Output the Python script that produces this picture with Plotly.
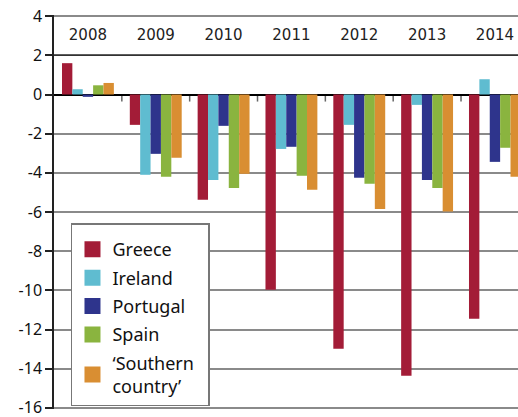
import plotly.graph_objects as go

years = ["2008", "2009", "2010", "2011", "2012", "2013", "2014"]
series_names = ["Greece", "Ireland", "Portugal", "Spain", "‘Southern\u00a0\u00a0<br>country’"]
greece = [1.6, -1.55, -5.38, -9.97, -12.98, -14.36, -11.45]
ireland = [0.27, -4.1, -4.36, -2.78, -1.55, -0.53, 0.78]
portugal = [-0.12, -3.03, -1.6, -2.67, -4.25, -4.36, -3.44]
spain = [0.47, -4.2, -4.77, -4.15, -4.56, -4.77, -2.72]
southern = [0.59, -3.23, -4.05, -4.87, -5.85, -5.97, -4.2]
y_ticks = [4, 2, 0, -2, -4, -6, -8, -10, -12, -14, -16]
y_ticktext = ["4", "2", "0", "-2", "-4", "-6", "-8", "-10", "-12", "-14", "-16"]
year_label_level = 2.95

colors = ["#A31C37", "#5FBCD0", "#2E348C", "#8AB43F", "#D98E32"]
values = [greece, ireland, portugal, spain, southern]

fig = go.Figure()
for name, vals, col in zip(series_names, values, colors):
    fig.add_trace(go.Bar(x=years, y=vals, name=name, marker=dict(color=col, line=dict(width=0)),
                         showlegend=False, hoverinfo="skip"))
for i, (name, col) in enumerate(zip(series_names, colors)):
    fig.add_trace(go.Scatter(x=[None], y=[None], mode="markers", name=name,
                             legendgroup=f"g{i}",
                             marker=dict(symbol="square", size=22, color=col)))

# year labels in the band between 2 and 4
fig.add_trace(go.Scatter(x=years, y=[year_label_level] * len(years), mode="text", text=years,
                         textfont=dict(family="DejaVu Sans", size=15, color="#222"),
                         showlegend=False, hoverinfo="skip", cliponaxis=False))

# year band separator line
fig.add_shape(type="line", xref="x domain", yref="y", x0=0, x1=1, y0=2, y1=2,
              line=dict(color="#333", width=1.5), layer="above")
# category boundary ticks below the zero line
for i in range(len(years) - 1):
    fig.add_shape(type="line", xref="x", yref="y", x0=i + 0.5, x1=i + 0.5, y0=0, y1=-0.36,
                  line=dict(color="#666", width=1.5), layer="below")

fig.update_layout(
    width=518, height=417,
    margin=dict(l=54, r=0, t=15, b=8, autoexpand=False),
    plot_bgcolor="white", paper_bgcolor="white",
    barmode="group", bargap=0.235, bargroupgap=0,
    font=dict(family="Noto Sans", color="#111"),
    xaxis=dict(type="category", range=[-0.5, 6.34], showgrid=False, showline=False,
               ticks="", showticklabels=False, zeroline=False, fixedrange=True),
    yaxis=dict(range=[-16.06, 4.06], tickvals=y_ticks, ticktext=y_ticktext,
               showgrid=True, gridcolor="#8a8a8a",
               gridwidth=1.5, zeroline=True, zerolinecolor="black", zerolinewidth=1.5,
               showline=True, linecolor="#222", linewidth=1.5,
               ticks="outside", ticklen=7, tickcolor="#222", tickwidth=1.5,
               ticklabeloverflow="allow", fixedrange=True,
               tickfont=dict(size=16, color="#111")),
    legend=dict(x=0.0366, y=0.472, xanchor="left", yanchor="top",
                bgcolor="white", bordercolor="#777", borderwidth=1.5,
                font=dict(size=18, color="#111"), tracegroupgap=2,
                title=dict(text=" ", font=dict(size=5)),
                itemsizing="trace"),
    showlegend=True,
    hovermode=False,
)

fig.write_html("out.html", config={"displayModeBar": False},
               post_script="document.body.style.margin='0px';")
